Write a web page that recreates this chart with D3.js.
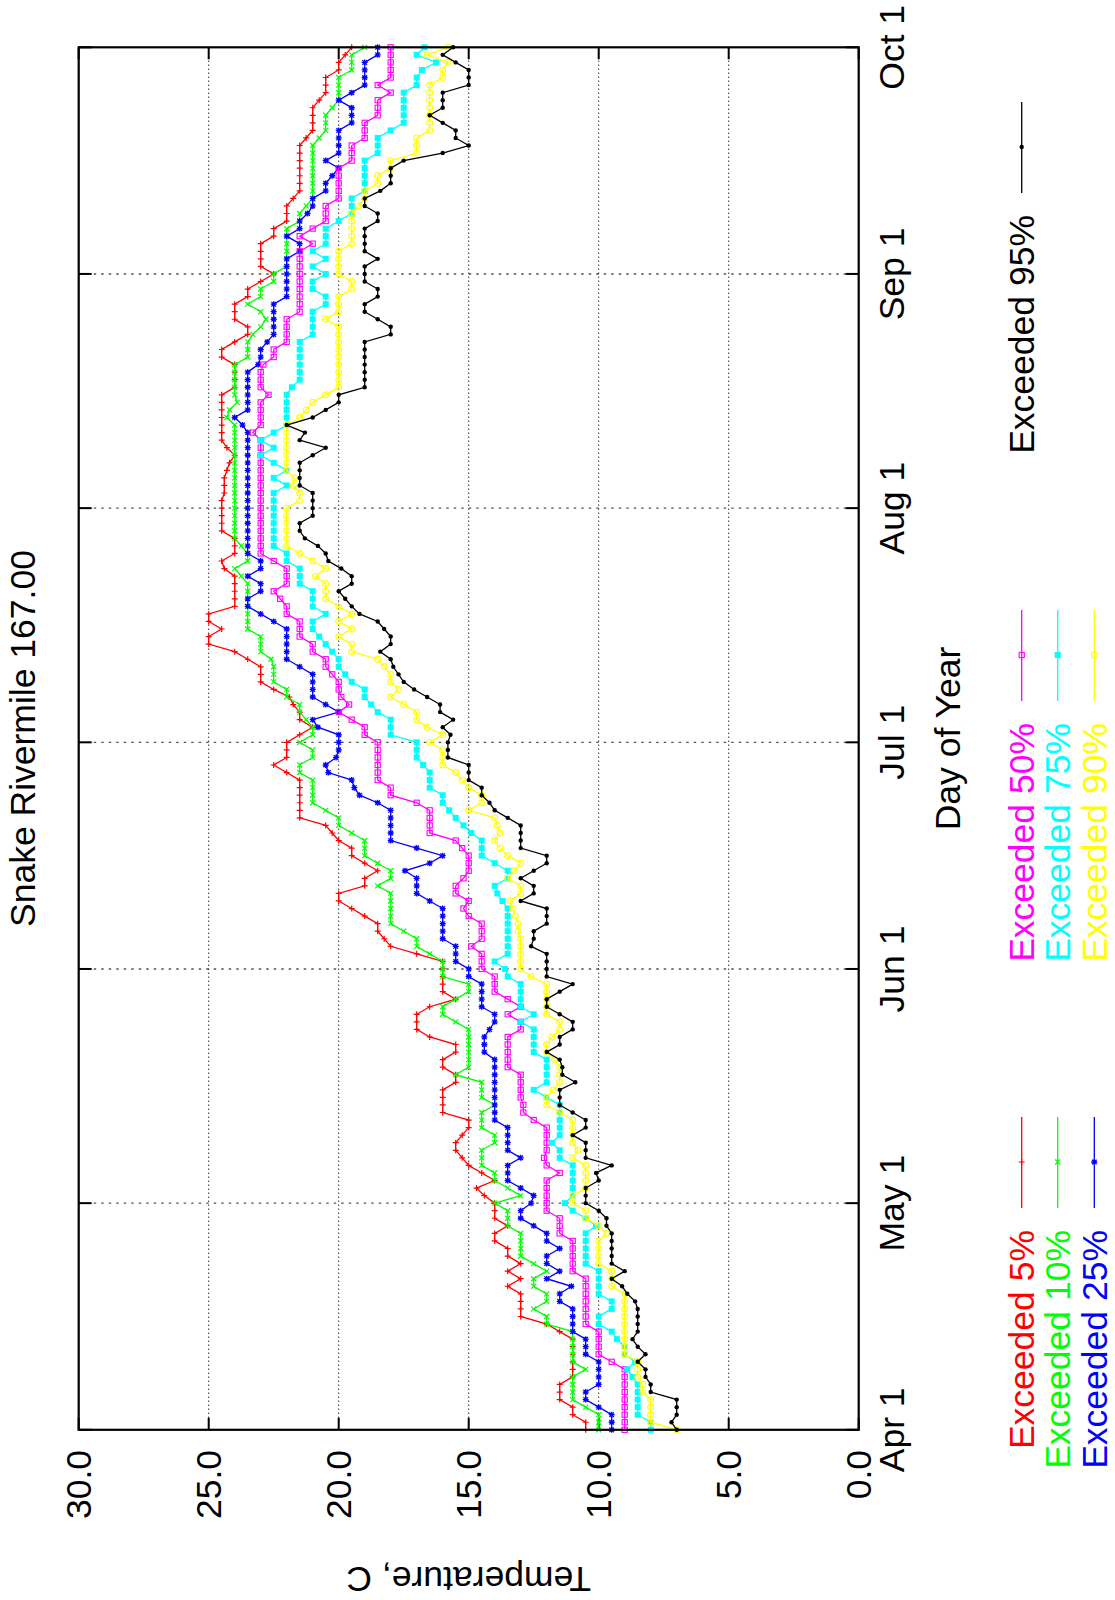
<!DOCTYPE html>
<html><head><meta charset="utf-8">
<script src="https://cdn.jsdelivr.net/npm/d3@7"></script>
<style>
body{margin:0;background:#fff}
text{font-family:"Liberation Sans",Arial,Helvetica,sans-serif}
</style>
</head><body>
<svg id="c" width="1115" height="1600" xmlns="http://www.w3.org/2000/svg"></svg>
<script>
// ---------- data ----------
const titleText = "Snake Rivermile 167.00";
const xLabel = "Day of Year";
const yLabel = "Temperature, C";
const monthTicks = ["Apr 1","May 1","Jun 1","Jul 1","Aug 1","Sep 1","Oct 1"];
const tempTicks = [0,5,10,15,20,25,30];
const seriesNames = ["Exceeded 5%","Exceeded 10%","Exceeded 25%","Exceeded 50%","Exceeded 75%","Exceeded 90%","Exceeded 95%"];

// daily values, Apr 1 .. Oct 1
const exc5 = [10.5,10.5,11.0,11.0,11.5,11.5,11.5,11.0,11.0,11.0,
 11.0,11.0,11.0,11.5,12.0,13.0,13.0,13.0,13.0,13.5,
 13.0,13.5,13.0,13.5,13.5,14.0,14.0,13.5,14.0,14.0,
 14.0,14.4,14.7,14.0,14.5,15.0,15.25,15.5,15.5,15.25,
 15.0,15.0,16.0,16.0,16.0,16.0,15.5,15.5,16.0,16.0,
 15.5,15.5,16.5,17.0,17.0,17.0,16.5,15.5,16.0,16.0,
 16.0,16.0,16.0,17.0,18.0,18.25,18.5,18.5,19.0,19.5,
 20.0,20.0,19.0,19.0,18.5,19.0,19.5,19.5,20.0,20.25,
 20.5,21.5,21.5,21.5,21.5,21.5,21.5,22.0,22.5,22.0,
 22.0,22.0,21.5,21.0,21.5,21.5,21.75,21.9,22.5,23.0,
 23.0,23.0,23.5,24.0,25.0,25.0,24.5,25.0,25.0,24.0,
 24.0,24.0,24.0,24.0,24.4,24.5,24.0,24.0,24.0,24.5,
 24.5,24.5,24.5,24.5,24.4,24.4,24.4,24.3,24.2,24.0,
 24.3,24.5,24.5,24.5,24.5,24.5,24.5,24.5,24.0,24.0,
 24.0,24.0,24.5,24.5,24.0,23.5,23.5,24.0,24.0,24.0,
 23.5,23.5,23.0,22.5,23.0,23.0,23.0,23.0,22.5,22.5,
 22.0,22.0,22.0,21.75,21.5,21.5,21.5,21.5,21.5,21.5,
 21.5,21.25,21.0,21.0,21.0,21.0,20.75,20.5,20.5,20.5,
 20.0,20.0,19.75,19.5];
const exc10 = [10.0,10.0,10.0,10.5,11.0,11.0,11.0,11.0,10.5,11.0,
 11.0,11.0,11.0,11.0,12.0,12.0,12.5,12.0,12.0,12.5,
 12.5,12.0,12.5,13.0,13.0,13.0,13.0,13.5,13.5,13.5,
 14.0,13.0,13.5,14.0,14.0,14.5,14.5,14.5,14.0,14.0,
 14.5,14.5,14.5,14.0,14.5,14.5,14.5,15.5,15.0,15.0,
 15.0,15.0,15.0,15.0,15.5,16.0,16.0,15.5,15.0,15.0,
 16.0,16.0,16.0,16.5,17.0,17.0,17.5,18.0,18.0,18.0,
 18.0,18.0,18.5,18.0,18.0,18.5,19.0,19.0,19.0,19.5,
 20.0,20.0,20.5,21.0,21.0,21.0,21.0,21.5,21.5,21.0,
 21.0,21.5,21.0,21.0,21.25,21.5,21.5,22.0,22.0,22.5,
 22.5,22.5,22.6,23.0,23.0,23.0,23.5,23.5,23.5,23.5,
 23.5,23.5,23.5,23.75,24.0,23.5,23.5,23.75,24.0,24.0,
 24.0,24.0,24.0,24.0,24.0,24.0,24.0,24.0,24.0,24.0,
 24.0,24.0,24.0,24.0,24.3,24.2,23.9,24.0,24.0,24.0,
 24.0,24.0,23.5,23.5,23.5,23.3,23.0,22.8,23.0,23.5,
 23.0,23.0,22.5,22.5,22.0,22.0,22.0,22.0,22.0,22.0,
 21.5,21.5,21.25,21.0,21.0,21.0,21.0,21.0,21.0,21.0,
 21.0,20.75,20.5,20.5,20.5,20.25,20.0,20.0,20.0,20.0,
 19.5,19.5,19.5,19.0];
const exc25 = [9.5,9.5,9.5,10.0,10.5,10.5,10.0,10.0,10.0,10.0,
 10.5,10.5,10.5,11.0,11.0,11.0,11.0,11.5,11.5,11.05,
 12.0,11.5,12.0,12.0,11.5,12.0,12.0,12.5,13.0,13.0,
 12.6,12.5,13.0,13.5,13.5,13.5,13.0,13.5,13.5,13.5,
 13.5,14.0,14.0,14.0,14.0,14.0,14.0,14.0,14.0,14.0,
 14.4,14.4,14.4,14.2,14.0,14.0,14.5,14.5,14.5,14.5,
 15.0,15.0,15.5,15.5,15.5,16.0,16.0,16.0,16.0,16.0,
 16.5,17.0,17.0,17.0,17.45,16.5,16.0,17.0,18.0,18.0,
 18.0,18.0,18.0,18.5,19.2,19.4,19.5,20.4,20.5,20.1,
 20.0,20.0,20.0,20.8,21.0,20.0,20.5,21.0,21.0,21.0,
 21.0,21.5,22.0,22.0,22.0,22.0,22.0,22.5,23.0,23.5,
 23.5,23.0,23.0,23.5,23.0,23.0,23.5,23.5,23.5,23.5,
 23.5,23.5,23.5,23.5,23.5,23.5,23.5,23.5,23.5,23.5,
 23.5,23.5,23.5,23.7,24.0,23.5,23.5,23.5,23.5,23.5,
 23.5,23.1,23.0,23.0,22.75,22.5,22.5,22.5,22.5,22.5,
 22.0,22.0,22.0,22.0,22.0,22.0,21.5,21.5,22.0,21.5,
 21.5,21.2,21.0,21.0,20.5,20.5,20.25,20.0,20.5,20.0,
 20.0,20.0,20.0,19.5,19.5,19.5,20.0,19.5,19.0,19.0,
 19.0,19.0,18.5,18.5];
const exc50 = [9.0,9.0,9.0,9.0,9.0,9.0,9.0,9.0,9.0,9.5,
 10.0,10.0,10.0,10.0,10.5,10.5,10.5,10.5,10.5,10.5,
 10.5,11.0,11.0,11.0,11.0,11.0,11.5,11.5,11.5,12.0,
 12.0,12.0,12.0,12.0,11.5,12.0,12.1,12.0,12.0,12.0,
 12.0,12.5,12.9,12.9,13.0,13.0,13.0,13.0,13.5,13.5,
 13.5,13.5,13.5,13.0,13.0,13.5,13.0,13.5,14.0,14.0,
 14.0,14.5,14.5,14.5,14.9,14.5,14.5,14.5,15.0,15.2,
 15.0,15.5,15.5,15.2,15.0,15.0,15.0,15.25,15.5,16.5,
 16.5,16.5,16.5,17.0,18.0,18.0,18.5,18.5,18.5,18.5,
 18.5,18.5,19.0,19.0,19.5,20.0,19.6,19.9,20.0,20.0,
 20.25,20.5,20.5,21.0,21.0,21.5,21.5,21.5,22.0,22.0,
 22.25,22.5,22.0,22.0,22.0,22.5,23.0,23.0,23.0,23.0,
 23.0,23.0,23.0,23.0,23.0,23.0,23.0,23.0,23.0,23.0,
 23.0,23.0,23.3,23.0,23.0,23.0,23.0,22.7,23.0,23.0,
 23.0,22.9,22.5,22.5,22.0,22.0,22.0,22.0,21.5,21.5,
 21.5,21.5,21.5,21.5,21.5,21.5,21.5,21.0,21.5,21.0,
 20.5,20.5,20.5,20.0,20.0,20.0,20.0,20.0,19.5,19.5,
 19.5,19.0,19.0,19.0,18.5,18.5,18.5,18.0,18.5,18.0,
 18.0,18.0,18.0,18.0];
const exc75 = [8.0,8.0,8.5,8.5,8.5,8.5,8.5,8.7,8.9,8.6,
 9.0,9.0,9.3,9.5,10.0,10.0,9.5,9.5,10.0,10.0,
 10.0,10.0,10.5,10.5,10.5,10.5,10.5,10.1,10.5,11.0,
 11.3,11.0,11.0,11.0,11.0,11.0,11.5,11.5,11.8,11.5,
 11.5,11.5,11.5,11.5,12.0,12.5,12.0,12.0,12.0,12.0,
 12.5,12.5,12.5,12.5,13.0,12.5,13.0,13.0,13.0,13.0,
 13.5,13.6,14.0,13.5,13.5,13.5,13.5,13.5,13.5,13.5,
 13.7,13.9,14.0,13.5,13.5,14.0,14.5,14.5,14.5,14.9,
 15.2,15.5,15.75,16.0,16.0,16.5,16.5,16.5,16.75,17.0,
 17.0,17.0,18.0,18.0,18.0,18.5,18.75,19.0,19.0,19.5,
 19.75,20.0,20.0,20.25,20.5,20.75,21.0,21.0,20.5,21.0,
 21.0,21.0,21.5,21.5,21.5,22.0,22.0,22.5,22.5,22.5,
 22.5,22.5,22.5,22.5,22.5,22.0,22.5,22.0,22.5,23.0,
 22.5,23.0,22.5,22.0,22.0,22.0,22.0,22.0,21.8,21.5,
 21.5,21.5,21.5,21.5,21.5,21.0,21.0,21.0,21.0,20.5,
 20.5,21.0,21.0,20.5,21.0,20.5,21.0,20.5,20.5,20.5,
 20.0,19.5,19.5,19.5,19.0,19.0,19.0,19.0,19.0,18.5,
 18.5,18.5,18.0,17.5,17.5,17.5,17.5,17.5,17.0,17.0,
 16.8,16.25,17.0,16.7];
const exc90 = [7.0,8.0,8.0,8.0,8.0,8.3,8.3,8.5,8.5,8.5,
 9.0,9.0,9.0,9.0,9.0,9.0,9.0,9.0,9.0,9.5,
 9.5,9.5,10.0,10.0,10.0,10.0,9.7,10.0,10.5,10.5,
 11.0,11.0,10.5,10.5,10.5,10.5,11.0,10.8,11.0,11.0,
 11.0,11.0,11.5,12.0,12.0,11.75,11.5,11.5,11.5,11.7,
 12.0,12.0,11.8,11.5,11.5,12.0,12.0,12.0,12.0,12.0,
 12.6,13.0,13.0,13.0,13.0,13.0,13.1,13.1,13.2,13.3,
 13.4,13.0,13.0,13.5,13.25,13.0,13.5,13.8,14.0,13.8,
 13.9,14.0,15.0,14.5,14.5,15.0,15.25,15.5,16.0,16.0,
 16.0,16.5,16.0,16.6,17.0,17.0,17.5,18.0,17.7,18.0,
 18.0,18.25,18.5,19.5,19.5,20.0,19.5,20.0,19.5,20.0,
 20.5,20.5,20.5,20.9,20.5,21.0,21.5,22.0,22.0,22.0,
 22.0,22.0,22.0,21.5,21.5,21.75,21.7,22.0,22.0,22.0,
 22.0,22.0,22.0,22.0,21.5,21.25,21.0,20.5,20.0,20.0,
 20.0,20.0,20.0,20.0,20.0,20.0,20.0,20.5,20.0,20.0,
 20.0,19.5,19.5,20.0,20.0,20.0,20.0,19.5,19.5,19.5,
 19.5,19.5,19.25,19.0,19.0,18.5,18.5,18.0,18.0,17.0,
 17.0,17.0,16.5,16.5,16.5,16.5,16.5,16.5,16.5,16.0,
 16.0,15.8,16.6,15.8];
const exc95 = [7.0,7.2,7.0,7.0,7.0,8.0,8.0,8.2,8.2,8.5,
 8.2,8.5,8.7,8.5,8.5,8.5,8.5,8.6,8.9,9.1,
 9.5,9.0,9.5,9.5,9.5,9.5,9.5,9.7,9.7,10.0,
 10.5,10.5,10.5,10.0,10.1,9.5,10.5,10.5,10.5,11.0,
 10.5,10.5,11.0,11.5,11.5,11.5,10.9,11.4,11.4,11.5,
 12.0,11.5,11.5,11.0,11.0,11.5,12.0,12.0,11.5,11.0,
 12.0,12.0,12.0,12.0,12.6,12.5,12.5,12.0,12.0,12.0,
 13.0,12.5,12.5,13.0,12.5,12.0,12.0,13.0,13.0,13.0,
 13.0,13.5,14.0,14.2,14.5,14.5,15.0,15.0,15.0,15.8,
 15.8,15.8,15.7,16.0,15.6,16.1,16.1,16.6,17.1,17.5,
 17.7,17.9,18.0,18.4,18.0,18.0,18.25,18.5,19.2,19.5,
 19.75,20.0,19.5,19.5,19.9,20.4,20.5,20.8,21.3,21.5,
 21.5,21.0,21.0,21.0,21.0,21.5,21.5,21.5,21.5,21.0,
 20.5,21.5,21.3,22.0,21.0,20.5,20.0,20.0,19.0,19.0,
 19.0,19.0,19.0,19.0,19.0,18.0,18.0,18.5,19.0,19.0,
 18.5,18.5,19.0,19.0,19.0,18.5,19.0,19.0,19.0,19.0,
 18.5,18.5,19.0,19.0,18.4,18.0,18.0,18.0,17.5,16.0,
 15.0,15.5,15.5,16.0,16.5,16.0,16.0,16.0,15.0,15.0,
 15.0,15.5,16.0,15.6];

// ---------- drawing ----------
const seriesValues = [exc5, exc10, exc25, exc50, exc75, exc90, exc95];
const colors = ["#ff0000","#00ff00","#0000ff","#ff00ff","#00ffff","#ffff00","#000000"];
const symbols = ["plus","cross","star","osquare","fsquare","ocircle","fcircle"];
const FS = "35.5px";

const svg = d3.select("#c");
svg.append("rect").attr("width",1115).attr("height",1600).attr("fill","#fff");
// landscape drawing rotated 90 deg counter-clockwise
const g = svg.append("g").attr("transform","translate(0,1600) rotate(-90)");

const L = 170.2, R = 1552.7, T = 78.7, B = 858.7;
const t0 = new Date(Date.UTC(2001,3,1));
const t1 = new Date(Date.UTC(2001,9,1));
const x = d3.scaleUtc().domain([t0,t1]).range([L,R]);
const y = d3.scaleLinear().domain([0,30]).range([B,T]);
const tickDates = d3.utcMonth.range(t0, d3.utcDay.offset(t1,1));
const dayDate = i => d3.utcDay.offset(t0, i);

// grid
const grid = g.append("g");
tickDates.forEach((d,i) => {
  if (i===0 || i===tickDates.length-1) return;
  grid.append("line").attr("x1",x(d)).attr("x2",x(d)).attr("y1",T).attr("y2",B)
    .attr("stroke","#555").attr("stroke-width",1.4).attr("stroke-dasharray","2.5,5");
});
tempTicks.forEach(t => {
  if (t===0 || t===30) return;
  grid.append("line").attr("x1",L).attr("x2",R).attr("y1",y(t)).attr("y2",y(t))
    .attr("stroke","#000").attr("stroke-width",1).attr("stroke-dasharray","1.2,2.8");
});

// ticks
const tk = g.append("g").attr("stroke","#000").attr("stroke-width",2);
tickDates.forEach(d => {
  tk.append("line").attr("x1",x(d)).attr("x2",x(d)).attr("y1",B).attr("y2",B-13);
  tk.append("line").attr("x1",x(d)).attr("x2",x(d)).attr("y1",T).attr("y2",T+13);
});
tempTicks.forEach(t => {
  tk.append("line").attr("x1",L).attr("x2",L+12).attr("y1",y(t)).attr("y2",y(t));
  tk.append("line").attr("x1",R).attr("x2",R-12).attr("y1",y(t)).attr("y2",y(t));
});

// tick labels
const fmt = d3.format(".1f");
tempTicks.forEach(t => {
  g.append("text").attr("x",150).attr("y",y(t)).attr("dy","0.36em")
    .attr("text-anchor","end").attr("font-size",FS).text(fmt(t));
});
tickDates.forEach((d,i) => {
  g.append("text").attr("x",x(d)).attr("y",904)
    .attr("text-anchor","middle").attr("font-size",FS).text(monthTicks[i]);
});

// titles
g.append("text").attr("x",(L+R)/2).attr("y",35).attr("text-anchor","middle")
  .attr("font-size",FS).text(titleText);
g.append("text").attr("x",(L+R)/2).attr("y",960).attr("text-anchor","middle")
  .attr("font-size",FS).text(xLabel);
g.append("text").attr("transform",`translate(33,${(T+B)/2}) rotate(-90)`)
  .attr("text-anchor","middle").attr("font-size",FS).text(yLabel);

// markers
function marker(sel, type, color){
  if (type==="plus") sel.append("path").attr("d","M-3,0H3M0,-3V3").attr("stroke",color).attr("stroke-width",1.2).attr("fill","none");
  else if (type==="cross") sel.append("path").attr("d","M-2.5,-2.5L2.5,2.5M-2.5,2.5L2.5,-2.5").attr("stroke",color).attr("stroke-width",1.2).attr("fill","none");
  else if (type==="star") sel.append("path").attr("d","M-3,0H3M0,-3V3M-2.3,-2.3L2.3,2.3M-2.3,2.3L2.3,-2.3").attr("stroke",color).attr("stroke-width",1.3).attr("fill","none");
  else if (type==="osquare") sel.append("rect").attr("x",-2.6).attr("y",-2.6).attr("width",5.2).attr("height",5.2).attr("stroke",color).attr("stroke-width",1.1).attr("fill","none");
  else if (type==="fsquare") sel.append("rect").attr("x",-3).attr("y",-3).attr("width",6).attr("height",6).attr("fill",color);
  else if (type==="ocircle") sel.append("circle").attr("r",2.9).attr("stroke",color).attr("stroke-width",1.1).attr("fill","none");
  else if (type==="fcircle") sel.append("circle").attr("r",2.2).attr("fill",color);
}

// series
const line = d3.line().x((v,i) => x(dayDate(i))).y(v => y(v));
const plot = g.append("g");
seriesValues.forEach((vals,s) => {
  const sg = plot.append("g");
  sg.append("path").attr("d", line(vals)).attr("fill","none")
    .attr("stroke",colors[s]).attr("stroke-width",1.3);
  vals.forEach((v,i) => {
    const m = sg.append("g").attr("transform",`translate(${x(dayDate(i))},${y(v)})`);
    marker(m, symbols[s], colors[s]);
  });
});

// frame
g.append("rect").attr("x",L).attr("y",T).attr("width",R-L).attr("height",B-T)
  .attr("fill","none").attr("stroke","#000").attr("stroke-width",2.2);

// legend
const colEnd = [370, 877, 1385];
const rowV = [1021.7, 1057.7, 1094.3];
seriesNames.forEach((nm,s) => {
  const c = Math.floor(s/3), r = s%3;
  const ex = colEnd[c], v = rowV[r];
  g.append("text").attr("x",ex).attr("y",v).attr("dy","0.36em").attr("text-anchor","end")
    .attr("font-size",FS).attr("fill",colors[s]).text(nm);
  g.append("line").attr("x1",ex+22).attr("x2",ex+113).attr("y1",v).attr("y2",v)
    .attr("stroke",colors[s]).attr("stroke-width",1.3);
  const m = g.append("g").attr("transform",`translate(${ex+68},${v})`);
  marker(m, symbols[s], colors[s]);
});
</script>
</body></html>
